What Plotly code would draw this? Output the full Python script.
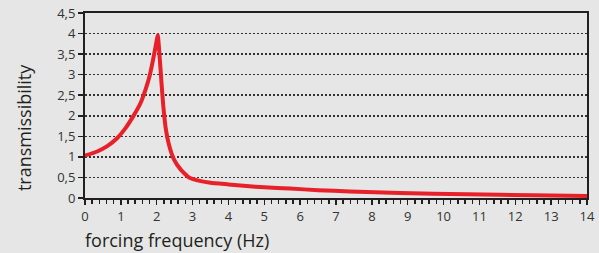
import plotly.graph_objects as go

# Data
freq_hz = [0.0, 0.34, 0.62, 0.90, 1.13, 1.36, 1.55, 1.69, 1.81, 1.90, 1.97, 2.03,
           2.09, 2.13, 2.18, 2.25, 2.34, 2.48, 2.67, 2.90, 3.23, 3.5, 4.0, 4.5,
           5.0, 5.72, 6.5, 7.39, 8.78, 10.64, 12.5, 14.0]
transmissibility = [1.03, 1.13, 1.26, 1.46, 1.70, 2.01, 2.31, 2.64, 3.0, 3.37, 3.69, 3.96,
                    3.33, 2.84, 2.27, 1.70, 1.30, 0.94, 0.69, 0.50, 0.41, 0.37, 0.33, 0.29,
                    0.26, 0.23, 0.19, 0.16, 0.12, 0.09, 0.065, 0.05]
x_ticks = list(range(0, 15))
y_ticks = [0, 0.5, 1, 1.5, 2, 2.5, 3, 3.5, 4, 4.5]

BG = "#e5e6e5"
AX = "#231f20"
FONT = "Open Sans, Noto Sans, sans-serif"

fig = go.Figure()
fig.add_trace(go.Scatter(
    x=freq_hz, y=transmissibility, mode="lines",
    line=dict(color="#e8202a", width=4, shape="spline", smoothing=0.4),
    hoverinfo="skip", showlegend=False,
))

fig.update_layout(
    width=599, height=253,
    margin=dict(l=85, r=12, t=13, b=55, autoexpand=False),
    paper_bgcolor=BG, plot_bgcolor=BG,
    separators=", ",
    font=dict(family=FONT, color="#333333", size=13),
    xaxis=dict(
        range=[0, 14], tickvals=x_ticks, showgrid=False, zeroline=False,
        showline=True, linecolor=AX, linewidth=2, mirror=True, automargin=False,
        ticks="outside", ticklen=5, tickwidth=1.5, tickcolor=AX,
        minor=dict(dtick=0.2, ticks="outside", ticklen=4, tickwidth=1.5, tickcolor=AX),
        tickfont=dict(size=13, color="#333333"),
    ),
    yaxis=dict(
        range=[0, 4.5], tickvals=y_ticks, showgrid=True,
        gridcolor="#333333", gridwidth=1.5, griddash="2px,2px",
        zeroline=False, automargin=False,
        showline=True, linecolor=AX, linewidth=2, mirror=True,
        ticks="outside", ticklen=5, tickwidth=1.5, tickcolor=AX,
        tickfont=dict(size=13, color="#333333"),
    ),
    annotations=[
        dict(text="forcing frequency (Hz)", xref="paper", yref="paper",
             x=-0.004, y=-0.225, xanchor="left", yanchor="middle",
             showarrow=False, font=dict(size=18, color="#231f20", family=FONT)),
        dict(text="transmissibility", xref="paper", yref="paper",
             x=-0.12, y=0.382, xanchor="center", yanchor="middle", textangle=-90,
             showarrow=False, font=dict(size=18, color="#231f20", family=FONT)),
    ],
)

fig.write_html(
    "out.html",
    config={"displayModeBar": False, "staticPlot": True},
    post_script=("document.body.style.margin='0';document.body.style.overflow='hidden';"
                 "document.body.style.background='%s';" % BG),
)
